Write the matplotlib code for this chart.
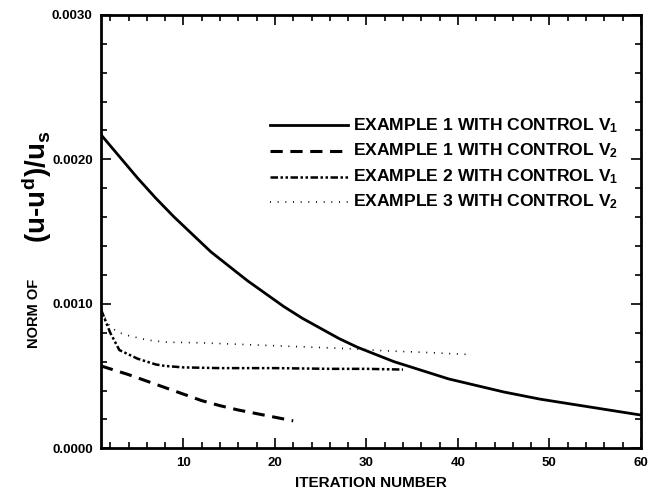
import matplotlib
matplotlib.use("Agg")
import matplotlib.pyplot as plt
from matplotlib.ticker import MultipleLocator, FormatStrFormatter

plt.rcParams['font.family'] = ['Liberation Sans', 'DejaVu Sans']
plt.rcParams['font.weight'] = 'bold'
plt.rcParams['mathtext.fontset'] = 'custom'
plt.rcParams['mathtext.rm'] = 'Liberation Sans:bold'
plt.rcParams['mathtext.it'] = 'Liberation Sans:bold'
plt.rcParams['mathtext.bf'] = 'Liberation Sans:bold'

# example 1, control V1
it_ex1_v1 = [1, 3, 5, 7, 9, 11, 13, 15, 17, 19, 21, 23, 25, 27, 29, 31,
             33, 35, 37, 39, 41, 43, 45, 47, 49, 51, 53, 55, 57, 59, 60]
norm_ex1_v1 = [2.17, 2.02, 1.87, 1.73, 1.60, 1.48, 1.36, 1.26, 1.16, 1.07,
               0.98, 0.90, 0.83, 0.76, 0.70, 0.65, 0.60, 0.56, 0.52, 0.48,
               0.45, 0.42, 0.39, 0.365, 0.34, 0.32, 0.30, 0.28, 0.26, 0.24, 0.23]

# example 1, control V2
it_ex1_v2 = [1, 2, 4, 6, 8, 10, 12, 14, 16, 18, 20, 22]
norm_ex1_v2 = [0.57, 0.55, 0.51, 0.465, 0.42, 0.375, 0.33, 0.295, 0.265,
               0.24, 0.215, 0.19]

# example 2, control V1
it_ex2_v1 = [1, 1.5, 2, 3, 4, 5, 6, 7, 8, 10, 14, 20, 26, 30, 34]
norm_ex2_v1 = [0.96, 0.88, 0.80, 0.68, 0.65, 0.62, 0.60, 0.58, 0.57, 0.56,
               0.555, 0.555, 0.55, 0.55, 0.545]

# example 3, control V2
it_ex3_v2 = [1, 2, 3, 4, 6, 8, 12, 16, 20, 24, 28, 32, 36, 41]
norm_ex3_v2 = [0.95, 0.84, 0.80, 0.78, 0.75, 0.735, 0.73, 0.72, 0.71, 0.70,
               0.69, 0.675, 0.665, 0.65]

labels = ['EXAMPLE 1 WITH CONTROL V$_1$', 'EXAMPLE 1 WITH CONTROL V$_2$',
          'EXAMPLE 2 WITH CONTROL V$_1$', 'EXAMPLE 3 WITH CONTROL V$_2$']

fig = plt.figure(figsize=(6.52, 4.97), dpi=100)
ax = fig.add_axes([0.155, 0.098, 0.828, 0.872])

scale = 1e-3
styles = [
    dict(ls='-', lw=2.0),
    dict(ls=(0, (4, 2.5)), lw=2.2),
    dict(ls=(0, (3, 1, 1, 1, 1, 1)), lw=1.8),
    dict(ls=(0, (0.6, 4)), lw=1.2),
]
series = [(it_ex1_v1, norm_ex1_v1), (it_ex1_v2, norm_ex1_v2),
          (it_ex2_v1, norm_ex2_v1), (it_ex3_v2, norm_ex3_v2)]

for (xs, ys), st in zip(series, styles):
    ax.plot(xs, [v * scale for v in ys], color='black', **st)

# legend drawn by hand so the text can run past the frame
for i, (lab, st) in enumerate(zip(labels, styles)):
    yl = 0.745 - i * 0.059
    ax.plot([0.313, 0.458], [yl, yl], transform=ax.transAxes, color='black',
            clip_on=False, **st)
    ax.text(0.467, yl, lab, transform=ax.transAxes, fontsize=12.6,
            fontweight='bold', va='center', ha='left', clip_on=False)

ax.set_xlim(1, 60)
ax.set_ylim(0, 0.003)
ax.xaxis.set_major_locator(MultipleLocator(10))
ax.xaxis.set_minor_locator(MultipleLocator(2))
ax.yaxis.set_major_locator(MultipleLocator(0.001))
ax.yaxis.set_minor_locator(MultipleLocator(0.0002))
ax.yaxis.set_major_formatter(FormatStrFormatter('%.4f'))

ax.tick_params(which='both', direction='in', top=True, right=True,
               width=1.2, labelsize=9.5, pad=6)
ax.tick_params(which='major', length=7)
ax.tick_params(which='minor', length=4)
for lbl in ax.get_xticklabels() + ax.get_yticklabels():
    lbl.set_fontweight('bold')
for sp in ax.spines.values():
    sp.set_linewidth(2.0)

ax.set_xlabel('ITERATION NUMBER', fontsize=11, fontweight='bold', labelpad=5)

fig.text(0.052, 0.37, 'NORM OF', rotation=90, fontsize=10.5,
         fontweight='bold', ha='center', va='center')
fig.text(0.056, 0.625, '$(u$-$u^d)/u_s$', rotation=90, fontsize=20,
         ha='center', va='center')

fig.savefig('out.png', dpi=100)
